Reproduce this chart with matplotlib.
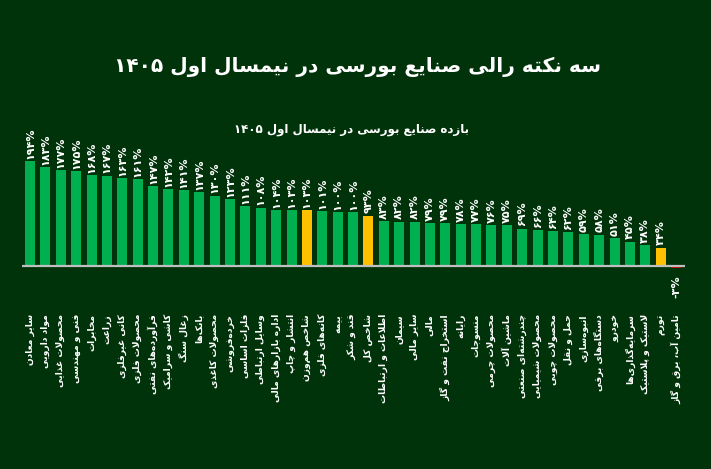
import unicodedata
import matplotlib
matplotlib.use("Agg")
import matplotlib.pyplot as plt

# -----------------------------
# DATA
# -----------------------------
title = "سه نکته رالی صنایع بورسی در نیمسال اول ۱۴۰۵"
subtitle = "بازده صنایع بورسی در نیمسال اول ۱۴۰۵"

industries = [
    "سایر معادن", "مواد دارویی", "محصولات غذایی", "فنی و مهندسی", "مخابرات",
    "زراعت", "کانی غیرفلزی", "محصولات فلزی", "فرآورده‌های نفتی", "کاشی و سرامیک",
    "زغال سنگ", "بانک‌ها", "محصولات کاغذی", "خرده‌فروشی", "فلزات اساسی",
    "وسایل ارتباطی", "اداره بازارهای مالی", "انتشار و چاپ", "شاخص هم‌وزن", "کانه‌های فلزی",
    "بیمه", "قند و شکر", "شاخص کل", "اطلاعات و ارتباطات", "سیمان",
    "سایر مالی", "مالی", "استخراج نفت و گاز", "رایانه", "منسوجات",
    "محصولات چرمی", "ماشین آلات", "چندرشته‌ای صنعتی", "محصولات شیمیایی", "محصولات چوبی",
    "حمل و نقل", "انبوه‌سازی", "دستگاه‌های برقی", "خودرو", "سرمایه‌گذاری‌ها",
    "لاستیک و پلاستیک", "تورم", "تامین آب، برق و گاز",
]
returns = [
    194, 183, 177, 175, 168, 167, 163, 161, 147, 142,
    141, 137, 130, 123, 111, 108, 104, 103, 103, 101,
    100, 100, 93, 83, 82, 82, 79, 79, 78, 77,
    76, 75, 69, 66, 64, 62, 59, 58, 51, 45,
    38, 34, -3,
]
highlight = ["شاخص هم‌وزن", "شاخص کل", "تورم"]

# -----------------------------
# PERSIAN TEXT HELPERS (shaping + right-to-left order)
# -----------------------------
FORMS = {}
for cp in list(range(0xFB50, 0xFE00)) + list(range(0xFE70, 0xFF00)):
    d = unicodedata.decomposition(chr(cp)).split()
    if len(d) != 2 or d[0] not in ("<isolated>", "<final>", "<initial>", "<medial>"):
        continue
    FORMS.setdefault(chr(int(d[1], 16)), {}).setdefault(d[0][1:-1], chr(cp))

LAM_ALEF = {"ا": ("\ufefb", "\ufefc"), "آ": ("\ufef5", "\ufef6"),
            "أ": ("\ufef7", "\ufef8"), "إ": ("\ufef9", "\ufefa")}


def joins_left(c):
    return "initial" in FORMS.get(c, {})


def joins_right(c):
    return "final" in FORMS.get(c, {})


def shape(s):
    out = []
    i = 0
    while i < len(s):
        c = s[i]
        prev_j = i > 0 and joins_left(s[i - 1])
        if c == "ل" and i + 1 < len(s) and s[i + 1] in LAM_ALEF:
            out.append(LAM_ALEF[s[i + 1]][1 if prev_j else 0])
            i += 2
            continue
        f = FORMS.get(c)
        if not f:
            out.append(c)
            i += 1
            continue
        prev_j = prev_j and joins_right(c)
        next_j = i + 1 < len(s) and joins_right(s[i + 1]) and joins_left(c)
        if prev_j and next_j:
            out.append(f.get("medial", c))
        elif prev_j:
            out.append(f.get("final", c))
        elif next_j:
            out.append(f.get("initial", c))
        else:
            out.append(f.get("isolated", c))
        i += 1
    return "".join(out).replace("\u200c", "")


def fa(s):
    s = shape(s)
    runs = []
    for ch in s:
        is_num = ch.isdigit()
        if runs and runs[-1][0] == is_num:
            runs[-1][1].append(ch)
        else:
            runs.append((is_num, [ch]))
    parts = ["".join(r) if num else "".join(reversed(r)) for num, r in runs]
    return "".join(reversed(parts))


def fa_pct(v):
    digits = str(v).translate(str.maketrans("0123456789", "۰۱۲۳۴۵۶۷۸۹"))
    return digits + "%"


# -----------------------------
# PLOT
# -----------------------------
bg = "#01330a"
plt.rcParams["font.family"] = ["DejaVu Sans"]

fig = plt.figure(figsize=(7.11, 4.69), dpi=100)
fig.patch.set_facecolor(bg)

W, H = 711, 469
ax = fig.add_axes([22 / W, (H - 290) / H, 663 / W, 160 / H])
ax.set_facecolor(bg)

colors = []
for name, v in zip(industries, returns):
    if v < 0:
        colors.append("#c00000")
    elif name in highlight:
        colors.append("#ffc000")
    else:
        colors.append("#00b050")

x = list(range(len(returns)))
ax.bar(x, returns, width=0.65, color=colors, zorder=2)
ax.axhline(0, color="#bfbfbf", lw=1.6, zorder=3)

ax.set_xlim(-0.52, len(returns) - 0.42)
ax.set_ylim(-44.4, 251.3)
ax.axis("off")

for i, v in enumerate(returns):
    if v >= 0:
        ax.text(i, v + 4, fa_pct(v), rotation=90, ha="center", va="bottom",
                color="white", fontsize=8, fontweight="bold", clip_on=False)
    else:
        ax.text(i, v - 15, fa_pct(v), rotation=90, ha="center", va="top",
                color="white", fontsize=8, fontweight="bold", clip_on=False)

for i, name in enumerate(industries):
    ax.text(i, -0.15, fa(name), rotation=90, ha="center", va="top",
            color="white", fontsize=6.6, fontweight="bold",
            transform=ax.get_xaxis_transform(), clip_on=False)

fig.text(357 / W, 1 - 67 / H, fa(title), ha="center", va="center",
         color="white", fontsize=14.5, fontweight="bold")
fig.text(352 / W, 1 - 130 / H, fa(subtitle), ha="center", va="center",
         color="white", fontsize=8.5, fontweight="bold")

fig.savefig("out.png", dpi=100, facecolor=bg)
